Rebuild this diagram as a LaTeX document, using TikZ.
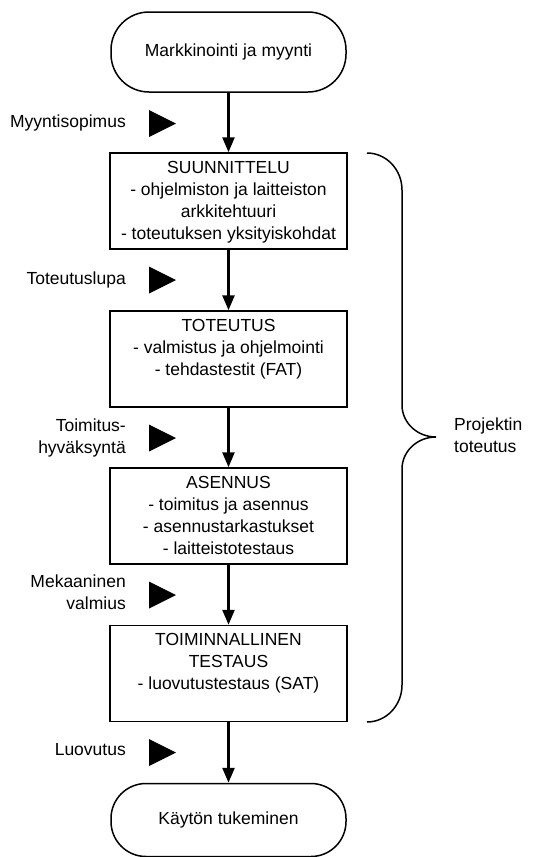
\documentclass[tikz,border=0pt]{standalone}
\usepackage{fontspec}
\setmainfont{Liberation Sans}
\usetikzlibrary{arrows.meta}

\newcommand\phasetext[1]{\parbox[c][86pt][t]{230pt}{\centering\strut #1}}

\tikzset{
  terminal/.style={draw, line width=1.5pt, rounded corners=38pt, minimum width=235pt, minimum height=80pt, inner sep=0pt},
  phase/.style={draw, line width=1.5pt, minimum width=237pt, minimum height=96pt, inner xsep=3pt, inner ysep=5pt},
  cue/.style={anchor=east, align=right, inner sep=0pt},
  flow/.style={-{Triangle[length=15pt,width=12pt]}, line width=2.5pt},
}

\begin{document}
\begin{tikzpicture}[x=1pt, y=-1pt, font=\fontsize{17.5}{22}\selectfont]
\useasboundingbox (0,0) rectangle (534,857);
% phases
\node[terminal] (myynti) at (228.5,52) {Markkinointi ja myynti};
\node[phase] (suunnittelu) at (228.5,201) {\phasetext{SUUNNITTELU\\- ohjelmiston ja laitteiston\\arkkitehtuuri\\- toteutuksen yksityiskohdat}};
\node[phase] (toteutus) at (228.5,359) {\phasetext{TOTEUTUS\\- valmistus ja ohjelmointi\\- tehdastestit (FAT)}};
\node[phase] (asennus) at (228.5,516) {\phasetext{ASENNUS\\- toimitus ja asennus\\- asennustarkastukset\\- laitteistotestaus}};
\node[phase] (testaus) at (228.5,673.5) {\phasetext{TOIMINNALLINEN\\TESTAUS\\- luovutustestaus (SAT)}};
\node[terminal, minimum height=73pt, rounded corners=35pt] (tuki) at (228.5,820) {Käytön tukeminen};
\foreach \a/\b in {myynti/suunnittelu, suunnittelu/toteutus, toteutus/asennus, asennus/testaus, testaus/tuki}
  \draw[flow] (\a) -- (\b);
% milestones
\foreach \y in {123.5,280,438,595,752.5}
  \fill (149,\y-13.5) -- ++(27,13.5) -- ++(-27,13.5) -- cycle;
\node[cue] (sopimus) at (126,122.5) {Myyntisopimus};
\node[cue] (lupa) at (126,279.5) {Toteutuslupa};
\node[cue] (hyvaksynta) at (126,437.5) {Toimitus-\\hyväksyntä};
\node[cue] (valmius) at (126,592) {Mekaaninen\\valmius};
\node[cue] (luovutus) at (126,750) {Luovutus};
% project brace
\draw[line width=1.5pt] (367,153) .. controls (386.3,153) and (402,169.6) .. (402,190) -- (402,405)
  .. controls (402,422.7) and (417.2,437) .. (436,437) .. controls (417.2,437) and (402,451.3) .. (402,469)
  -- (402,685) .. controls (402,705.4) and (386.3,722) .. (367,722);
\node[anchor=west, align=left, inner sep=0pt] (projekti) at (454,435) {Projektin\\toteutus};
\end{tikzpicture}
\end{document}
